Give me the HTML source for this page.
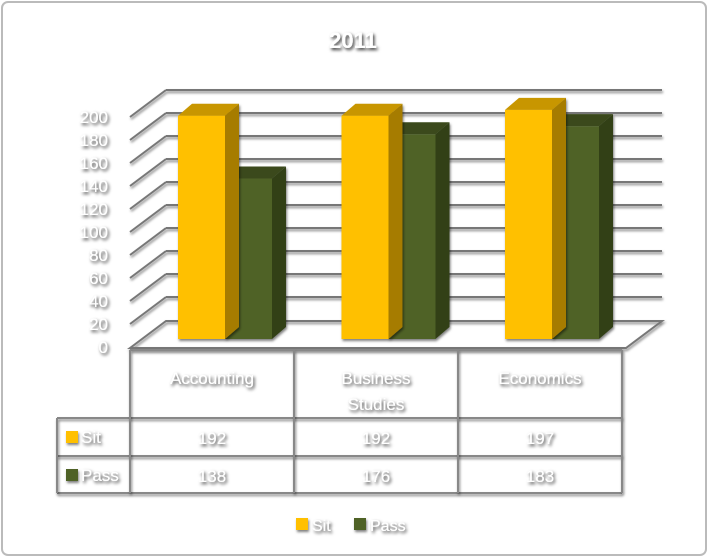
<!DOCTYPE html>
<html><head><meta charset="utf-8"><style>
body{margin:0;background:#fff}
svg{display:block;font-family:"Liberation Sans",sans-serif}
.t{fill:#fff;filter:url(#sh)}
</style></head><body>
<svg width="710" height="559" viewBox="0 0 710 559">
<defs>
<filter id="sh" filterUnits="userSpaceOnUse" x="0" y="0" width="710" height="559"><feDropShadow dx="1.5" dy="2" stdDeviation="1.5" flood-color="#000" flood-opacity="0.8"/></filter>
<filter id="ls" filterUnits="userSpaceOnUse" x="0" y="0" width="710" height="559"><feDropShadow dx="1" dy="2" stdDeviation="1.2" flood-color="#000" flood-opacity="0.5"/></filter>
</defs>
<rect x="2" y="2" width="704" height="553" rx="6" fill="#fff" stroke="#bbb" stroke-width="2"/>
<text class="t" x="353" y="48" text-anchor="middle" font-size="22" font-weight="bold">2011</text>
<g id="grid"></g>
<g id="bars"></g>
<g id="table"></g>
<g>
<rect x="296" y="518" width="12" height="12" fill="#FFC000" filter="url(#ls)"/>
<text class="t" x="312" y="531" font-size="16">Sit</text>
<rect x="354" y="518" width="12" height="12" fill="#4F6228" filter="url(#ls)"/>
<text class="t" x="370" y="531" font-size="16">Pass</text>
</g>
</svg>
<script>
const categories=["Accounting","Business Studies","Economics"];
const sit=[192,192,197];
const pass=[138,176,183];
const ticks=[0,20,40,60,80,100,120,140,160,180,200];
const NS="http://www.w3.org/2000/svg";
function mk(tag,attrs,parent){const e=document.createElementNS(NS,tag);for(const k in attrs)e.setAttribute(k,attrs[k]);parent.appendChild(e);return e;}
const yF=v=>347-v*1.15;
const DX=36,DY=-27;
const grid=document.getElementById('grid');
ticks.forEach(v=>{
  const y=yF(v);
  if(v>0){
  const l1=mk('line',{x1:130,y1:y,x2:130+DX,y2:y+DY,stroke:'#777','stroke-width':2,filter:'url(#ls)'},grid);
  
  
  const l2=mk('line',{x1:130+DX,y1:y+DY,x2:662,y2:y+DY,stroke:'#777','stroke-width':2,filter:'url(#ls)'},grid);
  
  
  }
  const t=mk('text',{x:108,y:y+6,'text-anchor':'end','font-size':17,class:'t'},grid);
  t.textContent=v;
  
  
});
const fl=mk('polygon',{points:`130,348 ${130+DX},${348+DY} 662,${348+DY} 626,348`,fill:'none',stroke:'#777','stroke-width':2,filter:'url(#ls)'},grid);


const bars=document.getElementById('bars');
const base=339,sc=1.163,bw=47,bd=14,bdy=-12;
function bar(x,v,c,ct,cs,name){
  const top=base-v*sc;
  const g=mk('g',{filter:'url(#ls)'},bars);
  
  
  mk('polygon',{points:`${x+bw},${top} ${x+bw+bd},${top+bdy} ${x+bw+bd},${base+bdy} ${x+bw},${base}`,fill:cs},g);
  mk('polygon',{points:`${x},${top} ${x+bd},${top+bdy} ${x+bw+bd},${top+bdy} ${x+bw},${top}`,fill:ct},g);
  mk('rect',{x:x,y:top,width:bw,height:base-top,fill:c},g);
}
categories.forEach((c,i)=>{
  const x0=178+i*163.5;
  bar(x0+bw,pass[i],'#4F6228','#3A4A1C','#323F18','bar-pass-'+i);
  bar(x0,sit[i],'#FFC000','#C89600','#A67C00','bar-sit-'+i);
});
const tb=document.getElementById('table');
const cols=[130,294,458,622];
function L(x1,y1,x2,y2){const l=mk('line',{x1,y1,x2,y2,stroke:'#888','stroke-width':2,filter:'url(#ls)'},tb);}
[350].forEach(y=>L(130,y,622,y));
[418,456,493].forEach(y=>L(57,y,622,y));
cols.forEach(x=>L(x,350,x,493));
L(57,418,57,493);
function T(x,y,s,name){const t=mk('text',{x,y,'text-anchor':'middle','font-size':17,class:'t'},tb);t.textContent=s;return t;}
categories.forEach((c,i)=>{
  const cx=(cols[i]+cols[i+1])/2;
  const w=c.split(' ');
  if(w.length>1){T(cx,384,w[0],'x-category-label');T(cx,410,w[1],'x-category-label');}
  else T(cx,384,c,'x-category-label');
  T(cx,444,sit[i],'table-sit-value');
  T(cx,482,pass[i],'table-pass-value');
});
[['#FFC000','Sit',437],['#4F6228','Pass',475]].forEach(([col,s,y],k)=>{
  const r=mk('rect',{x:66,y:y-6,width:12,height:12,fill:col,filter:'url(#ls)'},tb);
  
  
  const t=mk('text',{x:81,y:y+6,'font-size':17,class:'t'},tb);t.textContent=s;
  
  
});
</script>
</body></html>
